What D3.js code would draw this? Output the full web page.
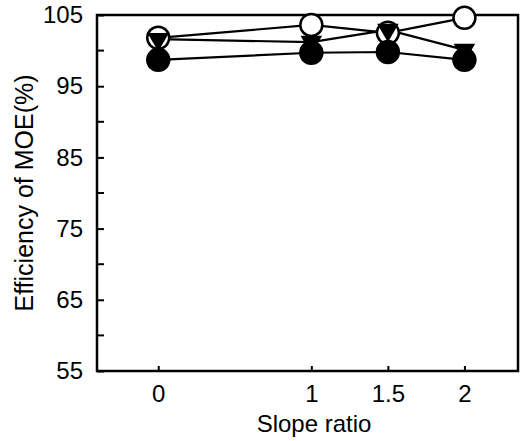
<!DOCTYPE html>
<html>
<head>
<meta charset="utf-8">
<script src="https://cdn.jsdelivr.net/npm/d3@7"></script>
<style>
  body { margin: 0; background: #fff; }
  text { font-family: "Liberation Sans", Arial, sans-serif; fill: #000; }
</style>
</head>
<body>
<svg width="525" height="441"></svg>
<script>
// slope ratios on x
var slopes = [0, 1, 1.5, 2];
// efficiency of MOE (%), one list per marker type
var openCircle = [101.8, 103.6, 102.5, 104.6];
var downTriangle = [101.6, 101.2, 102.9, 100.1];
var filledCircle = [98.7, 99.7, 99.8, 98.7];
var yTicks = [55, 65, 75, 85, 95, 105];
var yMinor = [60, 70, 80, 90, 100];

var svg = d3.select("svg"),
    plotLeft = 97, plotRight = 518, plotTop = 15, plotBottom = 371;

var x = d3.scaleLinear().domain([-0.4, 2.35]).range([plotLeft, plotRight]);
var y = d3.scaleLinear().domain([55, 105]).range([plotBottom, plotTop]);

// frame
svg.append("rect")
    .attr("x", plotLeft).attr("y", plotTop)
    .attr("width", plotRight - plotLeft).attr("height", plotBottom - plotTop)
    .attr("fill", "none").attr("stroke", "#000").attr("stroke-width", 2.5);

// y axis: inward ticks, labels outside
var yAxis = svg.append("g")
    .attr("transform", "translate(" + plotLeft + ",0)")
    .call(d3.axisRight(y).tickValues(yTicks).tickSize(7).tickFormat(d3.format("d")));
yAxis.select(".domain").remove();
yAxis.selectAll("line").attr("stroke-width", 2);
yAxis.selectAll("text")
    .attr("x", -14).attr("text-anchor", "end")
    .style("font-size", "24px");

svg.append("g").selectAll("line")
    .data(yMinor)
  .enter().append("line")
    .attr("x1", plotLeft).attr("x2", plotLeft + 7)
    .attr("y1", function(d) { return y(d); })
    .attr("y2", function(d) { return y(d); })
    .attr("stroke", "#000").attr("stroke-width", 2);

// x axis: inward ticks
var xAxis = svg.append("g")
    .attr("transform", "translate(0," + plotBottom + ")")
    .call(d3.axisTop(x).tickValues(slopes).tickSize(5).tickFormat(function(d) { return d; }));
xAxis.select(".domain").remove();
xAxis.selectAll("line").attr("stroke-width", 2);
xAxis.selectAll("text")
    .attr("y", 31)
    .style("font-size", "24px");

// axis titles
svg.append("text")
    .attr("x", 314).attr("y", 432)
    .attr("text-anchor", "middle")
    .style("font-size", "24px")
    .text("Slope ratio");

svg.append("text")
    .attr("transform", "translate(33,193) rotate(-90)")
    .attr("text-anchor", "middle")
    .style("font-size", "25px")
    .text("Efficiency of MOE(%)");

var series = [
  { values: openCircle, shape: "open" },
  { values: downTriangle, shape: "tri" },
  { values: filledCircle, shape: "filled" }
];

var line = d3.line()
    .x(function(d, i) { return x(slopes[i]); })
    .y(function(d) { return y(d); });

// lines first, then markers
series.forEach(function(s) {
  svg.append("path")
      .attr("d", line(s.values))
      .attr("fill", "none")
      .attr("stroke", "#000")
      .attr("stroke-width", 2.2);
});

series.forEach(function(s) {
  var g = svg.append("g").selectAll("g")
      .data(s.values)
    .enter().append("g")
      .attr("transform", function(d, i) {
        return "translate(" + x(slopes[i]) + "," + y(d) + ")";
      });
  if (s.shape === "tri") {
    g.append("path")
        .attr("d", d3.symbol().type(d3.symbolTriangle).size(200))
        .attr("transform", "rotate(180)")
        .attr("fill", "#000");
  } else {
    g.append("circle")
        .attr("r", 11)
        .attr("fill", s.shape === "open" ? "#fff" : "#000")
        .attr("stroke", "#000")
        .attr("stroke-width", 2.5);
  }
});
</script>
</body>
</html>
